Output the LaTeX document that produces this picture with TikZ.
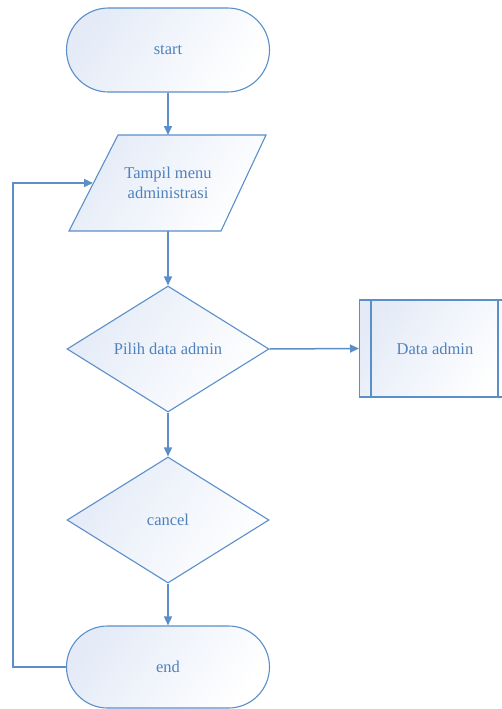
\documentclass[tikz,border=0pt]{standalone}
\usepackage{fontspec}
\setmainfont{Liberation Serif}
\usetikzlibrary{shapes.geometric,shapes.misc,arrows.meta}
\definecolor{lc}{RGB}{91,143,201}
\definecolor{tc}{RGB}{79,129,189}
\definecolor{fc}{RGB}{228,235,247}
\tikzset{
  fillshade/.style={left color=white, right color=fc, shading angle=-125},
  shapebox/.style={draw=lc, line width=1.1pt, fillshade, text=tc, font=\fontsize{16.5}{20}\selectfont, align=center},
  conn/.style={draw=lc, line width=1.5pt, -{Triangle[length=9pt,width=8pt]}},
}
\begin{document}
\begin{tikzpicture}[x=1pt,y=-1pt]
\useasboundingbox (0,0) rectangle (502,709);
\clip (0,0) rectangle (502,709);
% start
\node[shapebox, rounded rectangle, minimum width=203pt, minimum height=84pt, inner sep=0pt] (start) at (168,50) {start};
% parallelogram
\coordinate (pA) at (118,135);
\coordinate (pB) at (266,135);
\coordinate (pC) at (221,231);
\coordinate (pD) at (69,231);
\path[shapebox] (pA) -- (pB) -- (pC) -- (pD) -- cycle;
\node[text=tc, font=\fontsize{16.5}{20}\selectfont, align=center] (menu) at (168,183) {Tampil menu\\administrasi};
\coordinate (menuT) at (168,135);
\coordinate (menuB) at (168,231);
\coordinate (menuL) at (93,183);
% diamonds
\node[shapebox, diamond, minimum width=202pt, minimum height=126pt, inner sep=0pt] (pilih) at (168,349) {};
\node[text=tc, font=\fontsize{16.5}{20}\selectfont] (pilihT) at (168,349) {Pilih data admin};
\node[shapebox, diamond, minimum width=202pt, minimum height=126pt, inner sep=0pt] (cancel) at (168,520) {};
\node[text=tc, font=\fontsize{16.5}{20}\selectfont] (cancelT) at (168,520) {cancel};
% data admin
\node[shapebox, rectangle, minimum width=152pt, minimum height=97pt, inner sep=0pt, anchor=west] (data) at (359,348.5) {};
\draw[lc, line width=1.1pt] (371,300) -- (371,397);
\draw[lc, line width=1.1pt] (498,300) -- (498,397);
\node[text=tc, font=\fontsize{16.5}{20}\selectfont] (dataT) at (435,349) {Data admin};
% end
\node[shapebox, rounded rectangle, minimum width=203pt, minimum height=82pt, inner sep=0pt] (end) at (168,667) {end};
% connectors
\draw[conn] (start.south) -- (menuT);
\draw[conn] (menuB) -- (pilih.north);
\draw[conn] (pilih.east) -- (data.west);
\draw[conn] (pilih.south) -- (cancel.north);
\draw[conn] (cancel.south) -- (end.north);
\draw[conn] (end.west) -- (13,667) -- (13,183) -- (menuL);
\end{tikzpicture}
\end{document}
